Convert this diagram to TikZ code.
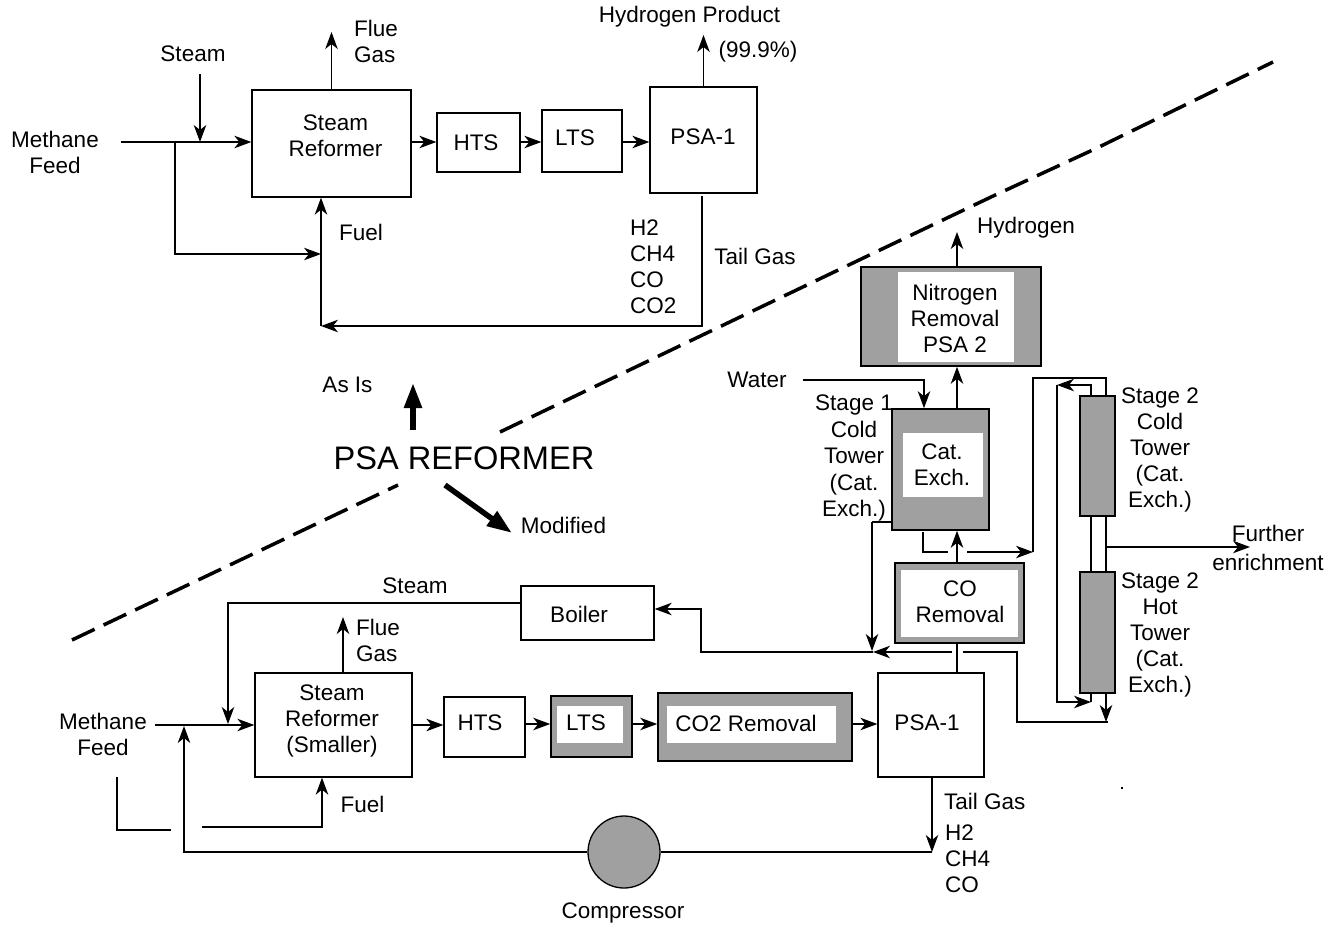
\documentclass[tikz,border=0pt]{standalone}
\usepackage{fontspec}
\setmainfont{Liberation Sans}
\usetikzlibrary{arrows.meta}
\definecolor{shade}{RGB}{160,160,160}
\begin{document}
\begin{tikzpicture}[x=1pt,y=-1pt,
  every node/.style={inner sep=0pt, font=\fontsize{22.5}{26}\selectfont},
  lbl/.style={align=center},
  box/.style={draw, line width=1.3pt, fill=white},
  sbox/.style={draw, line width=1.6pt, fill=shade},
  wbox/.style={fill=white},
  ln/.style={line width=1.3pt},
  arr/.style={-{Stealth[length=17pt,width=12.5pt,inset=5pt]}, line width=1.3pt},
  bigarr/.style={-{Triangle[length=25pt,width=17pt]}, line width=5.5pt},
  dashln/.style={line width=3.5pt, dash pattern=on 25pt off 10pt}]
\useasboundingbox (0,0) rectangle (1341,930);

% ---------- helper coordinates ----------
\coordinate (r1) at (0,142);
\coordinate (r2) at (0,724);
\coordinate (cx) at (957,0);
\coordinate (xa) at (1106,0);
\coordinate (xb) at (1091,0);
\coordinate (y254) at (0,254);
\coordinate (y609) at (0,609);
\coordinate (fx2) at (322,0);

% ================= TOP (As Is) =================
\node[box, minimum width=159pt, minimum height=107pt] (sr1) at (331.5,143.5) {};
\node[lbl] (sr1t) at (335.5,135.5) {Steam\\Reformer};
\node[box, minimum width=83pt, minimum height=59pt] (hts1) at (478.5,142.5) {};
\node (hts1t) at (476,143) {HTS};
\node[box, minimum width=80pt, minimum height=62pt] (lts1) at (582,141) {};
\node (lts1t) at (575,138) {LTS};
\node[box, minimum width=107pt, minimum height=106pt] (psa1) at (703.5,140) {};
\node (psa1t) at (703,137) {PSA-1};

\coordinate (mf1) at (121,142);
\coordinate (st1in) at (200,74);
\coordinate (br1) at (175,142);
\coordinate (fuel1) at (321,326);
\coordinate (tg1) at (702,196);
\coordinate (fg1) at (331.5,32);
\coordinate (hp1) at (703.5,35);

\draw[arr] (mf1) -- (sr1.west |- r1);
\draw[arr] (st1in) -- (st1in |- r1);
\draw[arr] (br1) -- (br1 |- y254) -- (fuel1 |- y254);
\draw[arr] (sr1.east |- r1) -- (hts1.west |- r1);
\draw[arr] (hts1.east |- r1) -- (lts1.west |- r1);
\draw[arr] (lts1.east |- r1) -- (psa1.west |- r1);
\draw[arr] (sr1.north) -- (fg1);
\draw[arr] (psa1.north) -- (hp1);
\draw[arr] (tg1) -- (tg1 |- fuel1) -- (fuel1);
\draw[arr] (fuel1) -- (fuel1 |- sr1.south);

\node (stm1) at (193,54) {Steam};
\node[align=left, anchor=west] (flue1) at (354,41.5) {Flue\\Gas};
\node[lbl] (meth1) at (55,152.5) {Methane\\Feed};
\node (hprod) at (689.5,17) {Hydrogen Product};
\node (pct) at (758,52) {(99.9\%)};
\node (fuel1t) at (361,232) {Fuel};
\node (tail1) at (755,256) {Tail Gas};
\node[align=left, anchor=west] (comp1) at (630,267) {H2\\CH4\\CO\\CO2};

% ================= dashed divider =================
\draw[dashln] (72,640) -- (398,485);
\draw[dashln] (500,432) -- (880,250) -- (991,197) -- (1097,148) -- (1273,62);

% ================= middle labels =================
\node (asis) at (347.5,385) {As Is};
\node[font=\fontsize{32.6}{38}\selectfont] (psaref) at (464,458) {PSA REFORMER};
\node (modif) at (563.5,525) {Modified};
\coordinate (asisA) at (413,430);
\coordinate (asisB) at (413,383);
\coordinate (modA) at (445,485);
\coordinate (modB) at (512,533);
\draw[bigarr] (asisA) -- (asisB);
\draw[bigarr] (modA) -- (modB);

% ================= RIGHT (Modified, upper) =================
\node[sbox, minimum width=180pt, minimum height=99pt] (nrem) at (951,316.5) {};
\node[wbox, minimum width=116pt, minimum height=90pt] (nremi) at (956,317) {};
\node[lbl] (nremt) at (955,318) {Nitrogen\\Removal\\PSA 2};

\node[sbox, minimum width=97pt, minimum height=121pt] (st1) at (940.5,469.5) {};
\node[wbox, minimum width=80pt, minimum height=64pt] (st1i) at (943,465) {};
\node[lbl] (st1t) at (942,465) {Cat.\\Exch.};

\node[sbox, minimum width=129pt, minimum height=80pt] (co) at (959.5,603) {};
\node[wbox, minimum width=117pt, minimum height=67pt] (coi) at (959.5,603.5) {};
\node[lbl] (cot) at (960,602) {CO\\Removal};

\node[sbox, line width=1.3pt, minimum width=35pt, minimum height=120pt] (ct) at (1097.5,456) {};
\node[sbox, line width=1.3pt, minimum width=35pt, minimum height=121pt] (ht) at (1097.5,632.5) {};

\coordinate (h2out) at (957,232);
\coordinate (water) at (803,380);
\coordinate (wx) at (924,380);
\draw[arr] (cx |- nrem.north) -- (h2out);
\draw[arr] (cx |- st1.north) -- (cx |- nrem.south);
\draw[arr] (cx |- co.north) -- (cx |- st1.south);
\draw[arr] (water) -- (wx) -- (wx |- st1.north);

% stage 1 bottom outlet to stage 2
\coordinate (s1o) at (923,532);
\coordinate (s2in) at (1033,552);
\coordinate (s2top) at (1033,378);
\draw[ln] (s1o) -- (923,552) -- (948,552);
\draw[arr] (967,552) -- (s2in);
\draw[ln] (s2in) -- (s2top) -- (xa |- s2top) -- (xa |- ct.north);

% left loop of stage 2
\coordinate (lp1) at (1057,385);
\coordinate (lp2) at (1091,702);
\draw[arr] (xb |- ct.north) -- (xb |- lp1) -- (lp1);
\draw[arr] (lp1) -- (lp1 |- lp2) -- (lp2);
\draw[ln] (xb |- ht.south) -- (lp2);

% between towers
\draw[ln] (xb |- ct.south) -- (xb |- ht.north);
\draw[ln] (xa |- ct.south) -- (xa |- ht.north);
\coordinate (furth) at (1250,547);
\draw[arr] (xa |- furth) -- (furth);

% hot tower bottom
\coordinate (htb) at (1106,722);
\draw[arr] (xa |- ht.south) -- (htb);
\draw[ln] (963,652) -- (1017,652) -- (1017,722) -- (1108,722);

% stage 1 side outlet down to boiler line
\coordinate (s1s) at (872,522);
\coordinate (mix) at (873,652);
\draw[ln] (st1.west |- s1s) -- (s1s);
\draw[arr] (s1s) -- (872,651);
\draw[arr] (952,652) -- (mix);

\node (h2t) at (1026,228) {Hydrogen};
\node (watert) at (757,380) {Water};
\node[lbl, font=\fontsize{22.5}{26.5}\selectfont] (s1lab) at (854,458) {Stage 1\\Cold\\Tower\\(Cat.\\Exch.)};
\node[lbl, font=\fontsize{22.5}{26.2}\selectfont] (s2clab) at (1160,450) {Stage 2\\Cold\\Tower\\(Cat.\\Exch.)};
\node[lbl, font=\fontsize{22.5}{26}\selectfont] (s2hlab) at (1160,635) {Stage 2\\Hot\\Tower\\(Cat.\\Exch.)};
\node[lbl, font=\fontsize{22.5}{29}\selectfont] (furtht) at (1268,547.5) {Further\\enrichment};

% ================= BOTTOM (Modified) =================
\node[box, minimum width=157pt, minimum height=104pt] (sr2) at (333.5,725) {};
\node[lbl] (sr2t) at (332,721) {Steam\\Reformer\\(Smaller)};
\node[box, minimum width=81pt, minimum height=60pt] (hts2) at (484.5,727) {};
\node (hts2t) at (480,723) {HTS};
\node[sbox, minimum width=81pt, minimum height=61pt] (lts2) at (591.5,726.5) {};
\node[wbox, minimum width=66pt, minimum height=37pt] (lts2i) at (590,724.5) {};
\node (lts2t) at (586,723) {LTS};
\node[sbox, minimum width=194pt, minimum height=68pt] (co2) at (755,727) {};
\node[wbox, minimum width=169pt, minimum height=37pt] (co2i) at (751.5,724.5) {};
\node (co2t) at (746,723) {CO2 Removal};
\node[box, minimum width=106pt, minimum height=104pt] (psa2) at (931,725) {};
\node (psa2t) at (927,723) {PSA-1};
\node[box, minimum width=133pt, minimum height=54pt] (boiler) at (587.5,613) {};
\node (boilert) at (579,614) {Boiler};

\draw[ln] (cx |- co.south) -- (cx |- psa2.north);

\coordinate (mf2) at (155,725);
\coordinate (stx) at (228,603);
\coordinate (rec) at (184,852);
\coordinate (tgb) at (932,852);
\coordinate (fu2) at (202,827);
\coordinate (fg2) at (343,617);
\coordinate (bx) at (701,652);

\draw[arr] (mf2) -- (sr2.west);
\draw[arr] (sr2.east) -- (sr2.east -| hts2.west);
\draw[arr] (hts2.east |- r2) -- (lts2.west |- r2);
\draw[arr] (lts2.east |- r2) -- (co2.west |- r2);
\draw[arr] (co2.east |- r2) -- (psa2.west |- r2);
\draw[arr] (boiler.west |- stx) -- (stx) -- (stx |- r2);
\draw[arr] (mix) -- (bx) -- (bx |- y609) -- (boiler.east |- y609);
\draw[arr] (fg2 |- sr2.north) -- (fg2);
\draw[arr] (fu2) -- (fx2 |- fu2) -- (fx2 |- sr2.south);
\draw[ln] (117,777) -- (117,830) -- (171,830);

\node[circle, draw, line width=1.3pt, fill=shade, minimum size=72pt] (comp) at (624,852) {};
\draw[arr] (tgb |- psa2.south) -- (tgb);
\draw[ln] (tgb) -- (comp.east);
\draw[arr] (comp.west) -- (rec) -- (184,726);

\fill (1121,787) rectangle (1123,789);

\node (stm2) at (415,586) {Steam};
\node[align=left, anchor=west] (flue2) at (356,640) {Flue\\Gas};
\node[lbl] (meth2) at (103,734) {Methane\\Feed};
\node (fuel2t) at (362.5,804) {Fuel};
\node[anchor=west] (tail2) at (944,801) {Tail Gas};
\node[align=left, anchor=west] (comp2) at (945,859) {H2\\CH4\\CO};
\node (compt) at (623,913) {Compressor};
\end{tikzpicture}
\end{document}
